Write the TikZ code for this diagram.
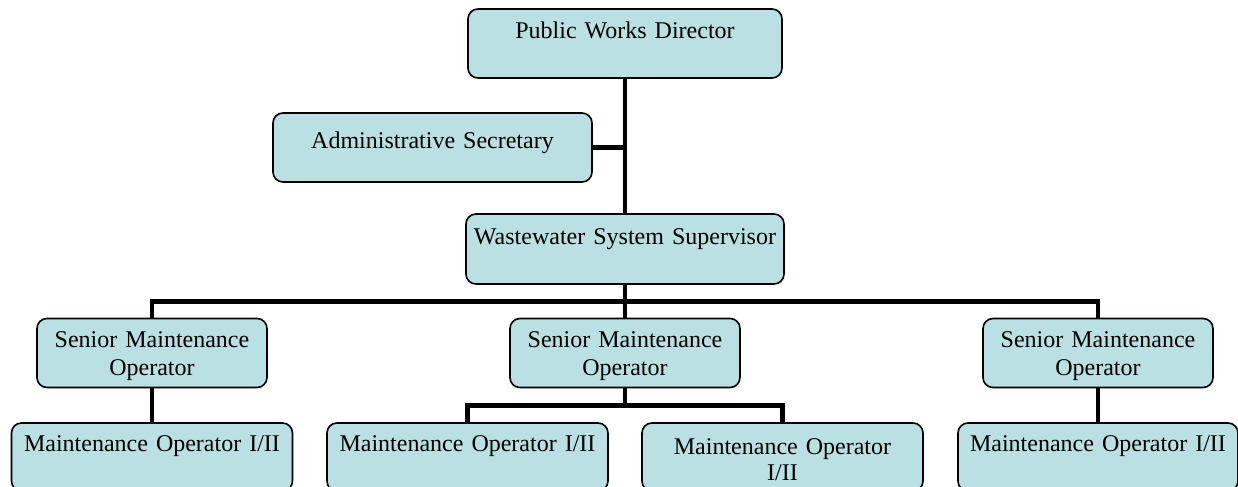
\documentclass[tikz,border=0pt]{standalone}
\usepackage{fontspec}
\setmainfont{Liberation Serif}
\usetikzlibrary{calc}

\definecolor{boxfill}{RGB}{187,224,227}

\tikzstyle{orgbox}  = [rectangle, rounded corners=5pt, draw=black, line width=0.8pt, fill=boxfill, inner sep=0pt, align=center, text height=14.5pt, text depth=20pt, font=\fontsize{12pt}{14pt}\selectfont]
\tikzstyle{orgline} = [line width=2.3pt]

\begin{document}
\begin{tikzpicture}[node distance=52pt]
        \useasboundingbox (-312.5pt,21.75pt) rectangle (306.5pt,-221.75pt);
        \clip (-312.5pt,21.75pt) rectangle (306.5pt,-221.75pt);
        % top of the chart
        \node (director)  [orgbox, text width=157pt, text height=15pt, text depth=19.5pt]                                          {Public Works Director};
        \node (secretary) [orgbox, text width=159.5pt, text height=17.5pt, text depth=17pt, below of=director, xshift=-96.25pt]   {Administrative Secretary};
        \node (super)     [orgbox, text width=159pt, text height=15pt, text depth=20pt, node distance=102.75pt, below of=director] {Wastewater System Supervisor};
        % senior operators
        \node (smoC)      [orgbox, text width=115pt, below of=super]                                {Senior Maintenance\\Operator};
        \node (smoL)      [orgbox, text width=115pt, node distance=236.5pt, left of=smoC]           {Senior Maintenance\\Operator};
        \node (smoR)      [orgbox, text width=115pt, node distance=236.5pt, right of=smoC]          {Senior Maintenance\\Operator};
        % operators
        \node (moA)       [orgbox, text width=140.5pt, text height=14pt, below of=smoL]              {Maintenance Operator I/II};
        \node (moB)       [orgbox, text width=140.5pt, text height=14pt, below of=smoC, xshift=-78.75pt] {Maintenance Operator I/II};
        \node (moC)       [orgbox, text width=140.5pt, text height=15.5pt, text depth=18.5pt, below of=smoC, xshift=78.75pt] {Maintenance Operator\\[-0.7pt]I/II};
        \node (moD)       [orgbox, text width=140pt, text height=14pt, below of=smoR]                {Maintenance Operator I/II};
        \coordinate (bus) at ($(super.south)!0.5!(smoC.north)$);
        \coordinate (sub) at ($(smoC.south)!0.5!(moB.north -| smoC.south)$);
        \draw[orgline] (director)  -- (super);
        \draw[orgline] (secretary) -- (secretary -| director);
        \draw[orgline] (super)     -- (smoC);
        \draw[orgline] (smoL)      |- (bus) -| (smoR);
        \draw[orgline] (smoL)      -- (moA);
        \draw[orgline] (smoR)      -- (moD);
        \draw[orgline] (smoC)      -- (sub);
        \draw[orgline] (moB)       |- (sub) -| (moC);
\end{tikzpicture}
\end{document}
